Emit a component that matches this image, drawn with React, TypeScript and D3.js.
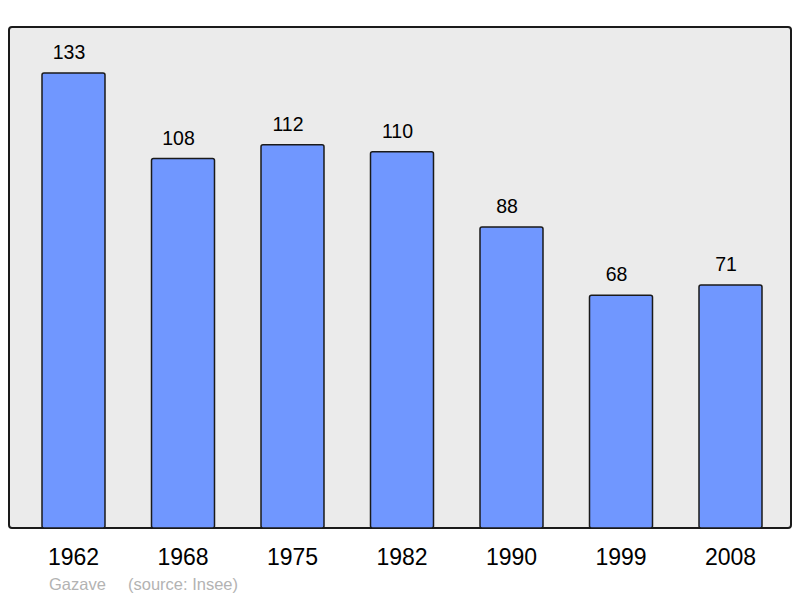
import React, { useRef, useEffect } from 'react';
import * as d3 from 'd3';

// population by census year
const years = ['1962', '1968', '1975', '1982', '1990', '1999', '2008'];
const population = [133, 108, 112, 110, 88, 68, 71];
const commune = 'Gazave';
const source = '(source: Insee)';

const W = 800;
const H = 598;

const App = () => {
  const svgRef = useRef<SVGSVGElement>(null);

  useEffect(() => {
    if (!svgRef.current) return;
    const svg = d3.select(svgRef.current);
    svg.selectAll('*').remove();

    // plot frame
    const frame = { left: 9, top: 27, right: 791, bottom: 528 };

    svg.append('rect')
      .attr('x', frame.left)
      .attr('y', frame.top)
      .attr('width', frame.right - frame.left)
      .attr('height', frame.bottom - frame.top)
      .attr('rx', 3)
      .attr('fill', '#ebebeb')
      .attr('stroke', '#1a1a1a')
      .attr('stroke-width', 2);

    const x = d3.scaleBand<string>()
      .domain(years)
      .range([18.75, 785.25])
      .paddingInner(0.4247)
      .paddingOuter(0.21235);

    const y = d3.scaleLinear()
      .domain([0, 133])
      .range([frame.bottom, 73]);

    const data = years.map((yr, i) => ({ year: yr, value: population[i] }));

    // bars
    svg.append('g')
      .selectAll('rect')
      .data(data)
      .enter()
      .append('rect')
      .attr('x', (d) => x(d.year)!)
      .attr('y', (d) => y(d.value))
      .attr('width', x.bandwidth())
      .attr('height', (d) => frame.bottom - y(d.value))
      .attr('rx', 2)
      .attr('fill', '#7097ff')
      .attr('stroke', '#1a1a1a')
      .attr('stroke-width', 1.5);

    // value labels (sit a little left of the bar centre in the original)
    svg.append('g')
      .selectAll('text')
      .data(data)
      .enter()
      .append('text')
      .attr('x', (d) => x(d.year)! + x.bandwidth() / 2 - 4.5)
      .attr('y', (d) => y(d.value) - 14)
      .attr('text-anchor', 'middle')
      .attr('fill', '#000')
      .style('font-family', '"Liberation Sans", Arial, sans-serif')
      .style('font-size', '19.5px')
      .text((d) => d.value);

    // year labels
    svg.append('g')
      .selectAll('text')
      .data(data)
      .enter()
      .append('text')
      .attr('x', (d) => x(d.year)! + x.bandwidth() / 2)
      .attr('y', 565)
      .attr('text-anchor', 'middle')
      .attr('fill', '#000')
      .style('font-family', '"Liberation Sans", Arial, sans-serif')
      .style('font-size', '23px')
      .text((d) => d.year);

    // footer
    const foot = svg.append('g')
      .style('font-family', '"Liberation Sans", Arial, sans-serif')
      .style('font-size', '16.5px')
      .attr('fill', '#b3b3b3');
    foot.append('text').attr('x', 49).attr('y', 590).text(commune);
    foot.append('text').attr('x', 128).attr('y', 590).text(source);

    return () => {
      svg.selectAll('*').remove();
    };
  }, []);

  return (
    <svg
      ref={svgRef}
      width={W}
      height={H}
      viewBox={`0 0 ${W} ${H}`}
      style={{ position: 'absolute', left: 0, top: 0, display: 'block', background: '#fff' }}
    />
  );
};

export default App;
